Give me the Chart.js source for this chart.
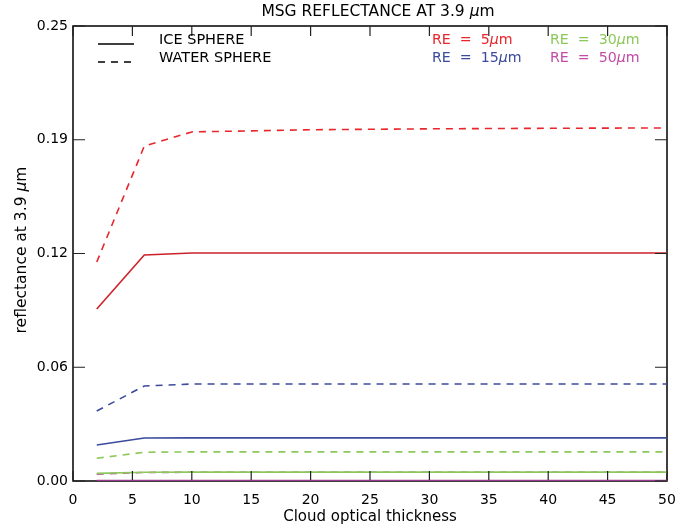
<!DOCTYPE html>
<html>
<head>
<meta charset="utf-8">
<script src="https://cdn.jsdelivr.net/npm/chart.js@4.4.1/dist/chart.umd.min.js"></script>
<style>
  html, body { margin: 0; padding: 0; background: #fff; }
  #wrap { width: 678px; height: 526px; }
</style>
</head>
<body>
<div id="wrap"><canvas id="chart" width="678" height="526"></canvas></div>
<script>
"use strict";

// Data
var opticalThickness = [2, 6, 10, 20, 30, 40, 50];
var iceRe5    = [0.0945, 0.1242, 0.1253, 0.1253, 0.1253, 0.1253, 0.1253];
var waterRe5  = [0.1203, 0.1840, 0.1918, 0.1930, 0.1935, 0.1938, 0.1940];
var iceRe15   = [0.0198, 0.0236, 0.0237, 0.0237, 0.0237, 0.0237, 0.0237];
var waterRe15 = [0.0385, 0.0522, 0.0533, 0.0533, 0.0533, 0.0533, 0.0533];
var iceRe30   = [0.0042, 0.0048, 0.0049, 0.0049, 0.0049, 0.0049, 0.0049];
var waterRe30 = [0.0125, 0.0158, 0.0160, 0.0160, 0.0160, 0.0160, 0.0160];
var iceRe50   = [0.0003, 0.0003, 0.0003, 0.0003, 0.0003, 0.0003, 0.0003];
var waterRe50 = [0.0038, 0.0047, 0.0048, 0.0048, 0.0048, 0.0048, 0.0048];

var xTickStep = 5;
var yTickStep = 0.0625;

var RED = "#e8262b", RED_DARK = "#cc2229";
var BLUE = "#3b4a9c", GREEN = "#8cc85a", MAGENTA = "#c24ca6", PURPLE = "#9a3a8c";
var FONT = "'DejaVu Sans', Verdana, sans-serif";
var DASH = [7, 6];

function pts(ys) {
    return opticalThickness.map(function (x, i) { return { x: x, y: ys[i] }; });
}

function series(label, ys, color, dashed) {
    return {
        label: label,
        data: pts(ys),
        borderColor: color,
        borderWidth: 1.6,
        borderDash: dashed ? DASH : [],
        pointRadius: 0,
        tension: 0,
        fill: false
    };
}

// two decimals, ties to even like printf does (0.125 -> 0.12)
function fmt2(v) {
    var s = v * 100, f = Math.floor(s), r = s - f;
    var n = r > 0.5 ? f + 1 : (r < 0.5 ? f : (f % 2 === 0 ? f : f + 1));
    return (n / 100).toFixed(2);
}

// draw text made of pieces, some in italic (for the greek mu)
function drawPieces(ctx, pieces, x, y, size, align) {
    var total = 0;
    pieces.forEach(function (p) {
        ctx.font = (p.it ? "italic " : "") + size + "px " + FONT;
        p.w = ctx.measureText(p.t).width;
        total += p.w;
    });
    var cx = align === "center" ? x - total / 2 : x;
    ctx.textAlign = "left";
    ctx.textBaseline = "middle";
    pieces.forEach(function (p) {
        ctx.font = (p.it ? "italic " : "") + size + "px " + FONT;
        ctx.fillText(p.t, cx, y);
        cx += p.w;
    });
}

var framePlugin = {
    id: "frame",
    // box goes under the lines so the bottom curve stays visible
    beforeDatasetsDraw: function (chart) {
        var ctx = chart.ctx, a = chart.chartArea;
        ctx.save();
        ctx.strokeStyle = "#000";
        ctx.lineWidth = 1.5;
        ctx.strokeRect(a.left, a.top, a.right - a.left, a.bottom - a.top);
        ctx.restore();
    },
    afterDraw: function (chart) {
        var ctx = chart.ctx, a = chart.chartArea;
        var xs = chart.scales.x, ys = chart.scales.y;
        ctx.save();

        // inward ticks on all four sides
        ctx.lineWidth = 1.2;
        ctx.strokeStyle = "#222";
        ctx.beginPath();
        xs.ticks.forEach(function (t) {
            var px = xs.getPixelForValue(t.value);
            ctx.moveTo(px, a.bottom - 1); ctx.lineTo(px, a.bottom - 10);
            ctx.moveTo(px, a.top); ctx.lineTo(px, a.top + 10);
        });
        ys.ticks.forEach(function (t) {
            var py = ys.getPixelForValue(t.value);
            ctx.moveTo(a.left, py); ctx.lineTo(a.left + 12, py);
            ctx.moveTo(a.right, py); ctx.lineTo(a.right - 12, py);
        });
        ctx.stroke();

        // title
        ctx.fillStyle = "#000";
        drawPieces(ctx, [{ t: "MSG REFLECTANCE AT 3.9 " }, { t: "\u03bc", it: true }, { t: "m" }],
            378, 12, 15.5, "center");

        // y axis title
        ctx.save();
        ctx.translate(22, 250);
        ctx.rotate(-Math.PI / 2);
        drawPieces(ctx, [{ t: "reflectance at 3.9 " }, { t: "\u03bc", it: true }, { t: "m" }], 0, 0, 15.5, "center");
        ctx.restore();

        // line style legend
        ctx.strokeStyle = "#000";
        ctx.lineWidth = 1.6;
        ctx.beginPath();
        ctx.moveTo(98, 44); ctx.lineTo(134, 44);
        ctx.stroke();
        ctx.setLineDash(DASH);
        ctx.beginPath();
        ctx.moveTo(98, 62); ctx.lineTo(134, 62);
        ctx.stroke();
        ctx.setLineDash([]);
        drawPieces(ctx, [{ t: "ICE SPHERE" }], 159, 40, 14.5, "left");
        drawPieces(ctx, [{ t: "WATER SPHERE" }], 159, 58, 14.5, "left");

        // colour legend
        var re = [
            { n: "5", c: RED, x: 432, y: 40 },
            { n: "15", c: BLUE, x: 432, y: 58 },
            { n: "30", c: GREEN, x: 550, y: 40 },
            { n: "50", c: MAGENTA, x: 550, y: 58 }
        ];
        re.forEach(function (r) {
            ctx.fillStyle = r.c;
            drawPieces(ctx, [{ t: "RE  =  " + r.n }, { t: "\u03bc", it: true }, { t: "m" }], r.x, r.y, 14.2, "left");
        });
        ctx.restore();
    }
};

new Chart(document.getElementById("chart").getContext("2d"), {
    type: "line",
    data: {
        datasets: [
            series("RE = 5 ice", iceRe5, RED_DARK, false),
            series("RE = 5 water", waterRe5, RED, true),
            series("RE = 15 ice", iceRe15, BLUE, false),
            series("RE = 15 water", waterRe15, BLUE, true),
            series("RE = 30 ice", iceRe30, GREEN, false),
            series("RE = 30 water", waterRe30, GREEN, true),
            series("RE = 50 ice", iceRe50, PURPLE, false),
            series("RE = 50 water", waterRe50, MAGENTA, true)
        ]
    },
    options: {
        responsive: false,
        animation: false,
        layout: { padding: { top: 26, right: 11, left: 0, bottom: 0 } },
        plugins: {
            legend: { display: false },
            tooltip: { enabled: false },
            title: { display: false }
        },
        scales: {
            x: {
                type: "linear",
                min: 0,
                max: 50,
                ticks: {
                    stepSize: xTickStep,
                    color: "#000",
                    font: { family: FONT, size: 14 },
                    padding: 11,
                    maxRotation: 0
                },
                grid: { display: false, drawTicks: false },
                border: { display: false },
                title: {
                    display: true,
                    text: "Cloud optical thickness",
                    color: "#000",
                    font: { family: FONT, size: 15 },
                    padding: { top: 0, bottom: 0 }
                },
                afterFit: function (s) {
                    s.height = 45;
                    s.paddingLeft = 0;
                    s.paddingRight = 0;
                }
            },
            y: {
                min: 0,
                max: 0.25,
                ticks: {
                    stepSize: yTickStep,
                    color: "#000",
                    font: { family: FONT, size: 14 },
                    padding: 5,
                    callback: function (v) { return fmt2(v); }
                },
                grid: { display: false, drawTicks: false },
                border: { display: false },
                afterFit: function (s) {
                    s.width = 73;
                    s.paddingTop = 0;
                    s.paddingBottom = 0;
                }
            }
        }
    },
    plugins: [framePlugin]
});
</script>
</body>
</html>
